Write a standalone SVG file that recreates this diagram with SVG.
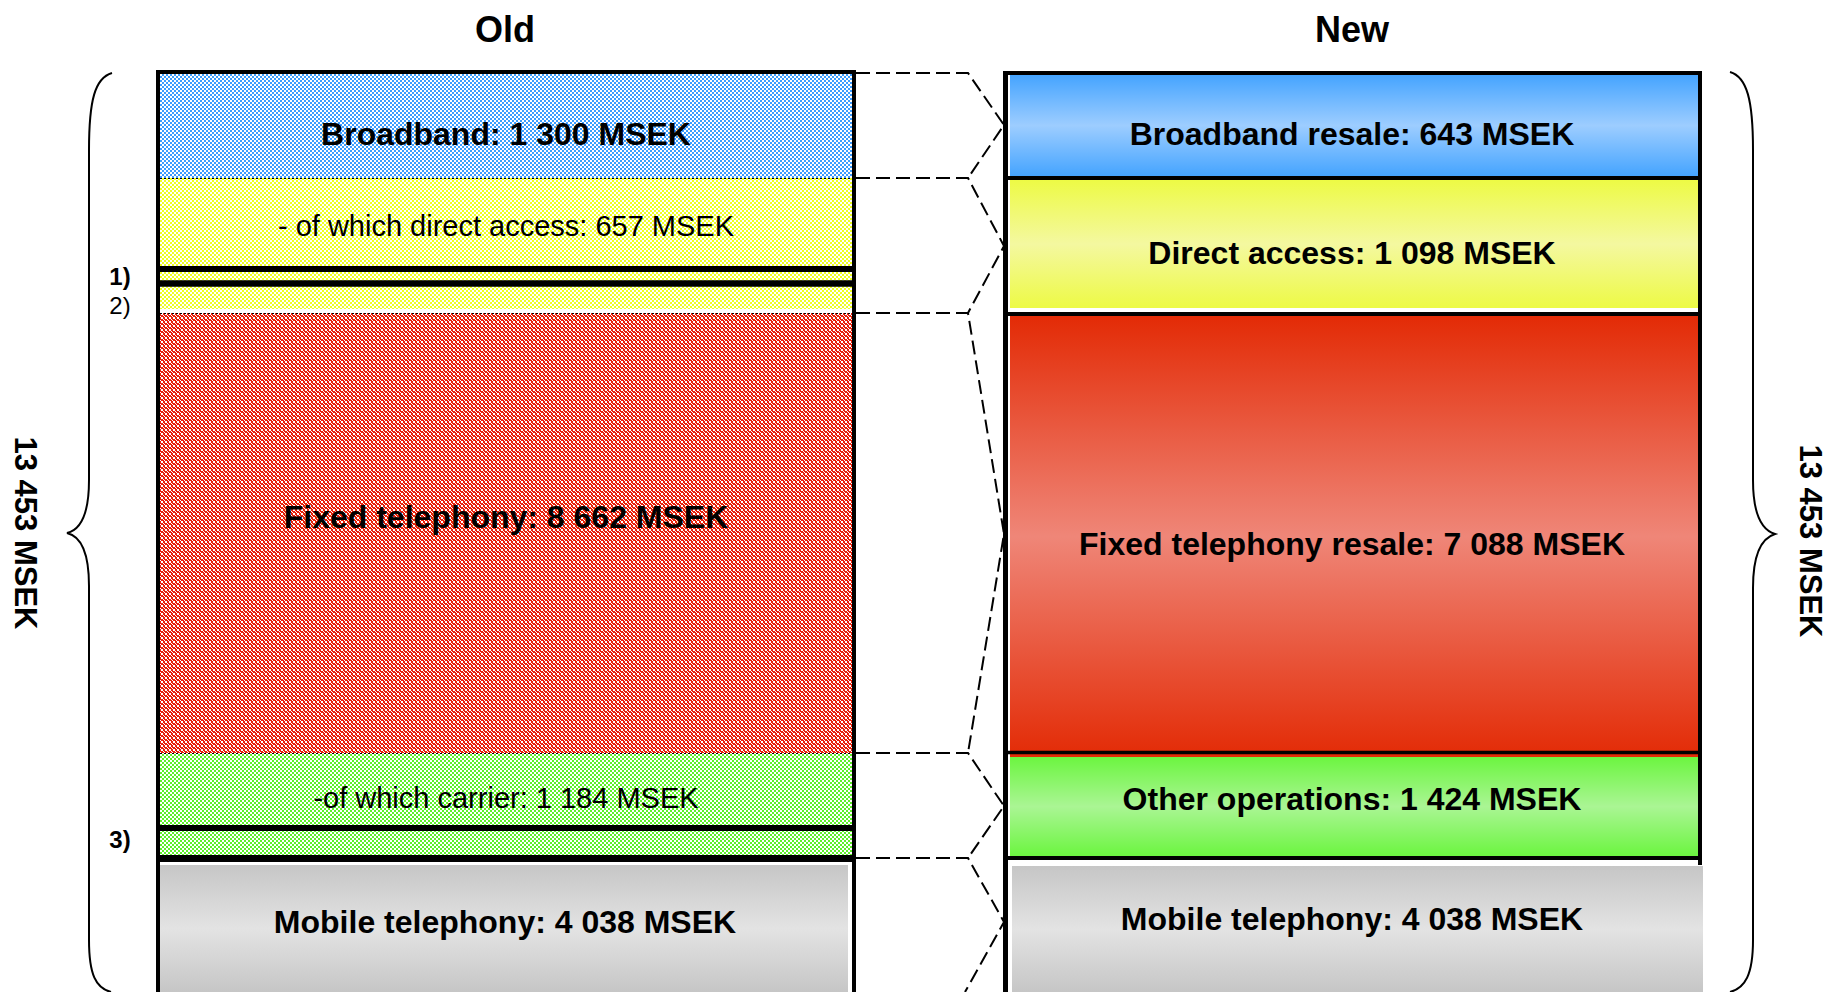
<svg xmlns="http://www.w3.org/2000/svg" width="1829" height="992" viewBox="0 0 1829 992">
<style>
text{font-family:"Liberation Sans",Arial,sans-serif;fill:#000}
.b{font-weight:bold;font-size:32px}
.r{font-size:29px}
.t{font-weight:bold;font-size:36px}
.n{font-size:24px}
.frame{stroke:#000;fill:none}
.dot{stroke:#000;stroke-width:1;stroke-dasharray:2 2;fill:none}
.conn{stroke:#000;stroke-width:2;stroke-dasharray:14 6;fill:none}
.brace{stroke:#000;stroke-width:2;fill:none}
</style>
<defs>
<pattern id="pBlue" width="4" height="4" patternUnits="userSpaceOnUse"><rect width="4" height="4" fill="#fff"/><rect width="2" height="2" fill="#3c9cff"/><rect x="2" y="2" width="2" height="2" fill="#3c9cff"/></pattern>
<pattern id="pYellow" width="4" height="4" patternUnits="userSpaceOnUse"><rect width="4" height="4" fill="#fff"/><rect width="2" height="2" fill="#eeff22"/><rect x="2" y="2" width="2" height="2" fill="#eeff22"/></pattern>
<pattern id="pRed" width="4" height="4" patternUnits="userSpaceOnUse"><rect width="4" height="4" fill="#e8200a"/><rect x="1" y="1" width="2" height="2" fill="#fff"/><rect x="3" y="3" width="1" height="1" fill="#fff"/><rect x="0" y="0" width="1" height="1" fill="#fff"/></pattern>
<pattern id="pGreen" width="4" height="4" patternUnits="userSpaceOnUse"><rect width="4" height="4" fill="#fff"/><rect width="2" height="2" fill="#5ef02a"/><rect x="2" y="2" width="2" height="2" fill="#5ef02a"/></pattern>
<linearGradient id="gBlue" x1="0" y1="0" x2="0" y2="1"><stop offset="0" stop-color="#45a4ff"/><stop offset="0.5" stop-color="#9dcdff"/><stop offset="1" stop-color="#45a4ff"/></linearGradient>
<linearGradient id="gYellow" x1="0" y1="0" x2="0" y2="1"><stop offset="0" stop-color="#edfa45"/><stop offset="0.5" stop-color="#f4f8a0"/><stop offset="1" stop-color="#edfa45"/></linearGradient>
<linearGradient id="gRed" x1="0" y1="0" x2="0" y2="1"><stop offset="0" stop-color="#e32b06"/><stop offset="0.5" stop-color="#ef8678"/><stop offset="1" stop-color="#e32b06"/></linearGradient>
<linearGradient id="gGreen" x1="0" y1="0" x2="0" y2="1"><stop offset="0" stop-color="#6cf540"/><stop offset="0.5" stop-color="#aaf594"/><stop offset="1" stop-color="#6cf540"/></linearGradient>
<linearGradient id="gGrey" x1="0" y1="0" x2="0" y2="1"><stop offset="0" stop-color="#c6c6c6"/><stop offset="0.5" stop-color="#e3e3e3"/><stop offset="1" stop-color="#c6c6c6"/></linearGradient>
</defs>

<text class="t" x="505" y="42" text-anchor="middle">Old</text>
<text class="t" x="1352" y="42" text-anchor="middle">New</text>

<g id="old-broadband">
<rect x="160" y="70" width="692" height="108" fill="url(#pBlue)"/>
<text class="b" x="506" y="145" text-anchor="middle">Broadband: 1 300 MSEK</text>
</g>
<g id="old-direct-access">
<rect x="160" y="178" width="692" height="131" fill="url(#pYellow)"/>
<line class="dot" x1="160" y1="178.5" x2="852" y2="178.5"/>
<text class="r" x="506" y="236" text-anchor="middle">- of which direct access: 657 MSEK</text>
<line x1="158" y1="269" x2="854" y2="269" stroke="#000" stroke-width="6"/>
<line x1="158" y1="283.5" x2="854" y2="283.5" stroke="#000" stroke-width="6.5"/>
</g>
<g id="old-fixed-telephony">
<rect x="160" y="313" width="692" height="440" fill="url(#pRed)"/>
<line class="dot" x1="160" y1="313.5" x2="852" y2="313.5"/>
<text class="b" x="506" y="528" text-anchor="middle">Fixed telephony: 8 662 MSEK</text>
</g>
<g id="old-carrier">
<rect x="160" y="753" width="692" height="106" fill="url(#pGreen)"/>
<line class="dot" x1="160" y1="753.5" x2="852" y2="753.5"/>
<text class="r" x="506" y="808" text-anchor="middle">-of which carrier: 1 184 MSEK</text>
<line x1="158" y1="828" x2="854" y2="828" stroke="#000" stroke-width="6"/>
<line x1="158" y1="858.5" x2="854" y2="858.5" stroke="#000" stroke-width="7"/>
</g>
<g id="old-mobile">
<rect x="159" y="865" width="689" height="127" fill="url(#gGrey)"/>
<text class="b" x="505" y="933" text-anchor="middle">Mobile telephony: 4 038 MSEK</text>
</g>
<g id="old-frame">
<path class="frame" stroke-width="4" d="M158,992 V72 H854 V992"/>
</g>

<g id="new-broadband-resale">
<rect x="1010" y="75" width="689" height="101" fill="url(#gBlue)"/>
<text class="b" x="1352" y="145" text-anchor="middle">Broadband resale: 643 MSEK</text>
</g>
<g id="new-direct-access">
<rect x="1010" y="180" width="689" height="128" fill="url(#gYellow)"/>
<text class="b" x="1352" y="264" text-anchor="middle">Direct access: 1 098 MSEK</text>
</g>
<g id="new-fixed-telephony-resale">
<rect x="1010" y="316" width="689" height="441" fill="url(#gRed)"/>
<text class="b" x="1352" y="555" text-anchor="middle">Fixed telephony resale: 7 088 MSEK</text>
</g>
<g id="new-other-operations">
<rect x="1010" y="757" width="689" height="99" fill="url(#gGreen)"/>
<text class="b" x="1352" y="810" text-anchor="middle">Other operations: 1 424 MSEK</text>
</g>
<g id="new-mobile">
<rect x="1012" y="866" width="691" height="126" fill="url(#gGrey)"/>
<text class="b" x="1352" y="930" text-anchor="middle">Mobile telephony: 4 038 MSEK</text>
</g>
<g id="new-frame">
<line x1="1005.5" y1="71" x2="1005.5" y2="992" stroke="#000" stroke-width="5"/>
<path class="frame" stroke-width="4" d="M1003,73 H1700 V865"/>
<line x1="1003" y1="178" x2="1700" y2="178" stroke="#000" stroke-width="4"/>
<line x1="1003" y1="314" x2="1700" y2="314" stroke="#000" stroke-width="4"/>
<line x1="1003" y1="752.5" x2="1700" y2="752.5" stroke="#000" stroke-width="3.5"/>
<line x1="1003" y1="858" x2="1700" y2="858" stroke="#000" stroke-width="4"/>
</g>

<g id="connectors">
<path class="conn" d="M856,73 H968 L1004,125 L968,178"/>
<path class="conn" d="M856,178 H968 L1004,246 L968,313"/>
<path class="conn" d="M856,313 H968 L1004,534 L968,753"/>
<path class="conn" d="M856,753 H968 L1004,806 L968,858"/>
<path class="conn" d="M856,858 H968 L1004,922 L965,992"/>
</g>

<g id="notes">
<text class="n" x="120" y="285" text-anchor="middle" font-weight="bold">1)</text>
<text class="n" x="120" y="314" text-anchor="middle">2)</text>
<text class="n" x="120" y="848" text-anchor="middle" font-weight="bold">3)</text>
</g>

<g id="left-total">
<path class="brace" d="M112,73 C95,78 89,100 89,150 L89,480 C89,515 80,530 67,533 C80,536 89,551 89,586 L89,940 C89,975 96,988 111,992"/>
<text class="b" transform="translate(15,533) rotate(90)" text-anchor="middle" style="font-size:31px">13 453 MSEK</text>
</g>
<g id="right-total">
<path class="brace" d="M1730,72 C1747,77 1753,100 1753,150 L1753,480 C1753,515 1762,530 1775,534 C1762,538 1753,553 1753,588 L1753,940 C1753,975 1745,988 1730,992"/>
<text class="b" transform="translate(1800,541) rotate(90)" text-anchor="middle" style="font-size:31px">13 453 MSEK</text>
</g>
</svg>
